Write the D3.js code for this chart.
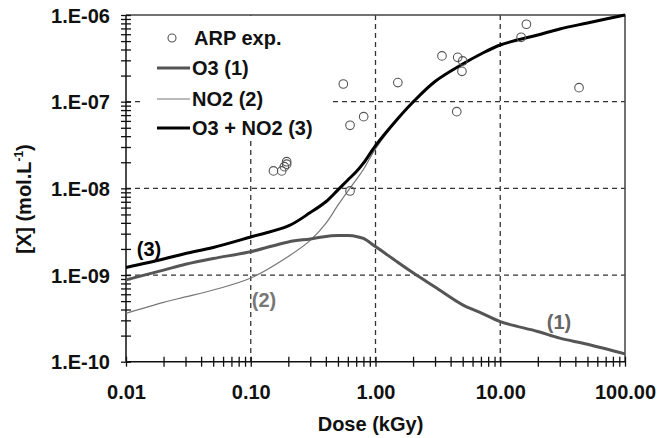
<!DOCTYPE html>
<html><head><meta charset="utf-8">
<script src="https://cdn.jsdelivr.net/npm/d3@7"></script>
<style>body{margin:0;background:#fff}svg{display:block;font-family:"Liberation Sans",Arial,sans-serif;font-weight:bold}</style>
</head><body><svg id="c" width="659" height="438"></svg>
<script>
// Data
const dose = [0.01,0.02,0.03,0.05,0.1,0.2,0.3,0.4,0.5,0.6,0.7,0.8,1,1.5,2,3,5,7,10,20,30,50,100];
const o3 = [8.78e-10,1.14e-9,1.33e-9,1.55e-9,1.86e-9,2.41e-9,2.61e-9,2.79e-9,2.85e-9,2.85e-9,2.79e-9,2.64e-9,2.13e-9,1.41e-9,1.06e-9,7.27e-10,4.52e-10,3.66e-10,2.90e-10,2.23e-10,1.87e-10,1.59e-10,1.23e-10];
const no2 = [3.61e-10,4.84e-10,5.59e-10,6.71e-10,9.23e-10,1.64e-9,2.51e-9,3.94e-9,6.4e-9,9.3e-9,1.25e-8,1.65e-8,2.85e-8,6.15e-8,9.7e-8,1.69e-7,2.72e-7,3.55e-7,4.51e-7,5.88e-7,6.9e-7,8.09e-7,1e-6];
const total = [1.22e-9,1.53e-9,1.77e-9,2.08e-9,2.75e-9,3.68e-9,5.25e-9,7.0e-9,9.6e-9,1.25e-8,1.55e-8,1.95e-8,3.1e-8,6.3e-8,9.9e-8,1.71e-7,2.72e-7,3.55e-7,4.51e-7,5.88e-7,6.9e-7,8.09e-7,1e-6];
const expDose = [0.152,0.177,0.186,0.194,0.194,0.625,0.552,0.625,0.804,1.51,3.41,4.56,5.0,4.93,4.48,14.7,16.2,42.8];
const expConc = [1.59e-8,1.59e-8,1.78e-8,2.03e-8,1.9e-8,9.33e-9,1.60e-7,5.34e-8,6.71e-8,1.66e-7,3.37e-7,3.25e-7,2.95e-7,2.24e-7,7.67e-8,5.53e-7,7.82e-7,1.45e-7];
const xTicks = [0.01,0.1,1,10,100];
const xTickLabels = ["0.01","0.10","1.00","10.00","100.00"];
const yTicks = [1e-10,1e-9,1e-8,1e-7,1e-6];
const yTickLabels = ["1.E-10","1.E-09","1.E-08","1.E-07","1.E-06"];
const legendLabels = ["ARP exp.","O3 (1)","NO2 (2)","O3 + NO2 (3)"];

const FS = 20;
const svg = d3.select("#c");
const L=126, R=625, T=15, B=361.7;
const x = d3.scaleLog().domain([0.01,100]).range([L,R]);
const y = d3.scaleLog().domain([1e-10,1e-6]).range([B,T]);

// minor ticks
const xMinor=[], yMinor=[];
[0.01,0.1,1,10].forEach(d=>{for(let k=2;k<=9;k++) xMinor.push(d*k);});
[1e-10,1e-9,1e-8,1e-7].forEach(d=>{for(let k=2;k<=9;k++) yMinor.push(d*k);});

// grid
const grid = svg.append("g").attr("stroke","#333").attr("stroke-width",1.3).attr("stroke-dasharray","5,4");
[0.1,1,10].forEach(v=>grid.append("line").attr("x1",x(v)).attr("x2",x(v)).attr("y1",T).attr("y2",B));
[1e-9,1e-8,1e-7].forEach(v=>grid.append("line").attr("x1",L).attr("x2",R).attr("y1",y(v)).attr("y2",y(v)));

// legend background
svg.append("rect").attr("x",143).attr("y",T+1).attr("width",190).attr("height",122).attr("fill","#fff");

// border
svg.append("path").attr("d",`M${L},${T}H${R}V${B}`).attr("fill","none").attr("stroke","#444").attr("stroke-width",1.5);

// axes
const xAxis = svg.append("g").attr("transform",`translate(0,${B})`)
  .call(d3.axisBottom(x).tickValues(xTicks.concat(xMinor)).tickSize(5).tickFormat(d=>{const i=xTicks.indexOf(d);return i>=0?xTickLabels[i]:"";}));
xAxis.selectAll(".tick line").attr("y1",-5).attr("y2",5).attr("stroke","#111").attr("stroke-width",1.3);
xAxis.select(".domain").attr("stroke","#111").attr("stroke-width",1.5).attr("d",`M${L},0H${R}`);
xAxis.selectAll("text").attr("font-size",FS).attr("font-family","Liberation Sans, Arial, sans-serif").attr("font-weight","bold").attr("fill","#111").attr("y",23).attr("dy","0.71em");

const yAxis = svg.append("g").attr("transform",`translate(${L},0)`)
  .call(d3.axisLeft(y).tickValues(yTicks.concat(yMinor)).tickSize(5).tickFormat(d=>{const i=yTicks.findIndex(t=>Math.abs(t-d)/t<1e-6);return i>=0?yTickLabels[i]:"";}));
yAxis.selectAll(".tick line").attr("x1",-5).attr("x2",5).attr("stroke","#111").attr("stroke-width",1.3);
yAxis.select(".domain").attr("stroke","#111").attr("stroke-width",1.5).attr("d",`M0,${T}V${B}`);
yAxis.selectAll("text").attr("font-size",FS).attr("font-family","Liberation Sans, Arial, sans-serif").attr("font-weight","bold").attr("fill","#111").attr("x",-16).attr("dy","0.35em");

// curves
const line = d3.line().x(d=>x(d[0])).y(d=>y(d[1])).curve(d3.curveCatmullRom.alpha(0.5));
svg.append("path").datum(dose.map((d,i)=>[d,no2[i]])).attr("d",line).attr("fill","none").attr("stroke","#777").attr("stroke-width",1.2);
svg.append("path").datum(dose.map((d,i)=>[d,o3[i]])).attr("d",line).attr("fill","none").attr("stroke","#555").attr("stroke-width",3);
svg.append("path").datum(dose.map((d,i)=>[d,total[i]])).attr("d",line).attr("fill","none").attr("stroke","#000").attr("stroke-width",3);

// experimental points
svg.append("g").selectAll("circle").data(expDose.map((d,i)=>[d,expConc[i]])).join("circle")
  .attr("cx",d=>x(d[0])).attr("cy",d=>y(d[1])).attr("r",4.3).attr("fill","none").attr("stroke","#555").attr("stroke-width",1.1);

// curve labels
svg.append("text").attr("x",149).attr("y",256).attr("text-anchor","middle").attr("font-size",FS).attr("fill","#000").text("(3)");
svg.append("text").attr("x",264).attr("y",307).attr("text-anchor","middle").attr("font-size",FS).attr("fill","#777").text("(2)");
svg.append("text").attr("x",559).attr("y",329).attr("text-anchor","middle").attr("font-size",FS).attr("fill","#666").text("(1)");

// legend
const lg = svg.append("g").attr("font-size",FS).attr("fill","#111");
const rows=[38,68,99,128];
lg.append("circle").attr("cx",172).attr("cy",rows[0]).attr("r",4).attr("fill","none").attr("stroke","#555").attr("stroke-width",1.1);
lg.append("line").attr("x1",157).attr("x2",190).attr("y1",rows[1]).attr("y2",rows[1]).attr("stroke","#555").attr("stroke-width",3);
lg.append("line").attr("x1",157).attr("x2",190).attr("y1",rows[2]).attr("y2",rows[2]).attr("stroke","#777").attr("stroke-width",1.2);
lg.append("line").attr("x1",157).attr("x2",190).attr("y1",rows[3]).attr("y2",rows[3]).attr("stroke","#000").attr("stroke-width",3);
legendLabels.forEach((t,i)=>lg.append("text").attr("x",i===0?194:192).attr("y",rows[i]).attr("dy","0.35em").text(t));

// axis titles
svg.append("text").attr("x",370.5).attr("y",431).attr("text-anchor","middle").attr("font-size",FS).attr("fill","#111").text("Dose (kGy)");
const yl = svg.append("text").attr("transform","translate(31,199) rotate(-90)").attr("text-anchor","middle").attr("font-size",FS).attr("fill","#111");
yl.append("tspan").text("[X] (mol.L");
yl.append("tspan").attr("font-size",12).attr("dy",-8).text("-1");
yl.append("tspan").attr("dy",8).text(")");
</script></body></html>
